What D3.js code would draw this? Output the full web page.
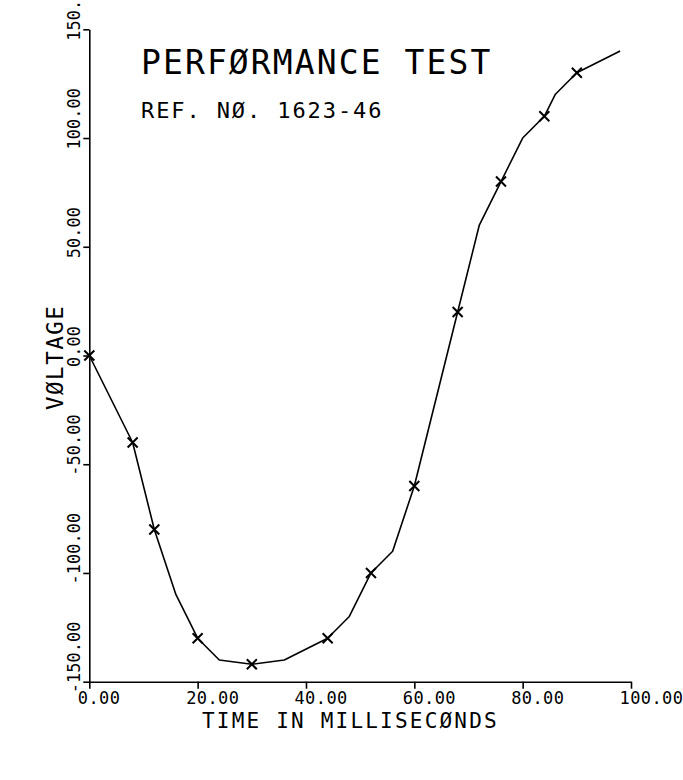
<!DOCTYPE html>
<html>
<head>
<meta charset="utf-8">
<script src="https://cdn.jsdelivr.net/npm/d3@7"></script>
<style>
  body { margin: 0; background: #fff; }
  text { font-family: "DejaVu Sans Mono", monospace; fill: #000; }
</style>
</head>
<body>
<div id="chart"></div>
<script>
// every vertex of the plotted curve (time in ms, voltage)
var lineTime = [0, 8, 12, 16, 20, 24, 30, 36, 44, 48, 52, 56, 60, 68, 72, 76, 80, 84, 86, 90, 98];
var lineVolt = [0, -40, -80, -110, -130, -140, -142, -140, -130, -120, -100, -90, -60, 20, 60, 80, 100, 110, 120, 130, 140];

// the measured points, drawn with an x
var markTime = [0, 8, 12, 20, 30, 44, 52, 60, 68, 76, 84, 90];
var markVolt = [0, -40, -80, -130, -142, -130, -100, -60, 20, 80, 110, 130];

var xTicks = [0, 20, 40, 60, 80, 100];
var xTickLabels = ["0.00", "20.00", "40.00", "60.00", "80.00", "100.00"];
var yTicks = [-150, -100, -50, 0, 50, 100, 150];
var yTickLabels = ["-150.00", "-100.00", "-50.00", "0.00", "50.00", "100.00", "150."];

var title = "PERFØRMANCE TEST",
    subtitle = "REF. NØ. 1623-46",
    xTitle = "TIME IN MILLISECØNDS",
    yTitle = "VØLTAGE";

var svgWidth = 683, svgHeight = 780;

var x = d3.scaleLinear().domain([0, 100]).range([89.3, 631]);
var y = d3.scaleLinear().domain([-150, 150]).range([681.7, 29.3]);

var svg = d3.select("#chart").append("svg")
    .attr("width", svgWidth)
    .attr("height", svgHeight);

// x axis, ticks hanging below the line
var gx = svg.append("g")
    .attr("class", "x axis")
    .attr("transform", "translate(0," + y(-150) + ")")
    .call(d3.axisBottom(x)
      .tickValues(xTicks)
      .tickFormat(function(d, i) { return xTickLabels[i]; })
      .tickSize(7)
      .tickSizeOuter(0));

gx.attr("font-size", 17).attr("font-family", null);
gx.selectAll(".tick text")
    .attr("x", -12)
    .attr("y", 22.5)
    .attr("dy", null)
    .attr("text-anchor", "start")
    .style("letter-spacing", "0.4px");

// y axis, labels turned on their side
var gy = svg.append("g")
    .attr("class", "y axis")
    .attr("transform", "translate(" + x(0) + ",0)")
    .call(d3.axisLeft(y)
      .tickValues(yTicks)
      .tickFormat(function(d, i) { return yTickLabels[i]; })
      .tickSize(6)
      .tickSizeOuter(0));

gy.attr("font-size", 17).attr("font-family", null);
gy.selectAll(".tick text")
    .attr("x", null)
    .attr("dy", null)
    .attr("text-anchor", "start")
    .attr("transform", "translate(-9,11) rotate(-90)");

svg.selectAll(".domain, .tick line")
    .attr("stroke", "#000")
    .attr("stroke-width", 1.6);

// axis titles
svg.append("text")
    .attr("x", 202)
    .attr("y", 728)
    .attr("font-size", 21)
    .style("letter-spacing", "2.2px")
    .text(xTitle);

svg.append("text")
    .attr("transform", "translate(63,410) rotate(-90)")
    .attr("font-size", 22.5)
    .style("letter-spacing", "1.5px")
    .text(yTitle);

// titles in the plot area
svg.append("text")
    .attr("x", 141)
    .attr("y", 74)
    .attr("font-size", 33)
    .style("letter-spacing", "2.1px")
    .text(title);

svg.append("text")
    .attr("x", 141)
    .attr("y", 118)
    .attr("font-size", 22)
    .style("letter-spacing", "1.9px")
    .text(subtitle);

// the curve
var lineData = lineTime.map(function(t, i) { return { t: t, v: lineVolt[i] }; });
var markData = markTime.map(function(t, i) { return { t: t, v: markVolt[i] }; });

var line = d3.line()
    .x(function(d) { return x(d.t); })
    .y(function(d) { return y(d.v); });

svg.append("path")
    .datum(lineData)
    .attr("fill", "none")
    .attr("stroke", "#000")
    .attr("stroke-width", 1.6)
    .attr("stroke-linejoin", "round")
    .attr("d", line);

svg.selectAll(".mark")
    .data(markData)
  .enter().append("path")
    .attr("class", "mark")
    .attr("transform", function(d) { return "translate(" + x(d.t) + "," + y(d.v) + ")"; })
    .attr("d", "M-5,-5L5,5M-5,5L5,-5")
    .attr("stroke", "#000")
    .attr("stroke-width", 2)
    .attr("fill", "none");
</script>
</body>
</html>
